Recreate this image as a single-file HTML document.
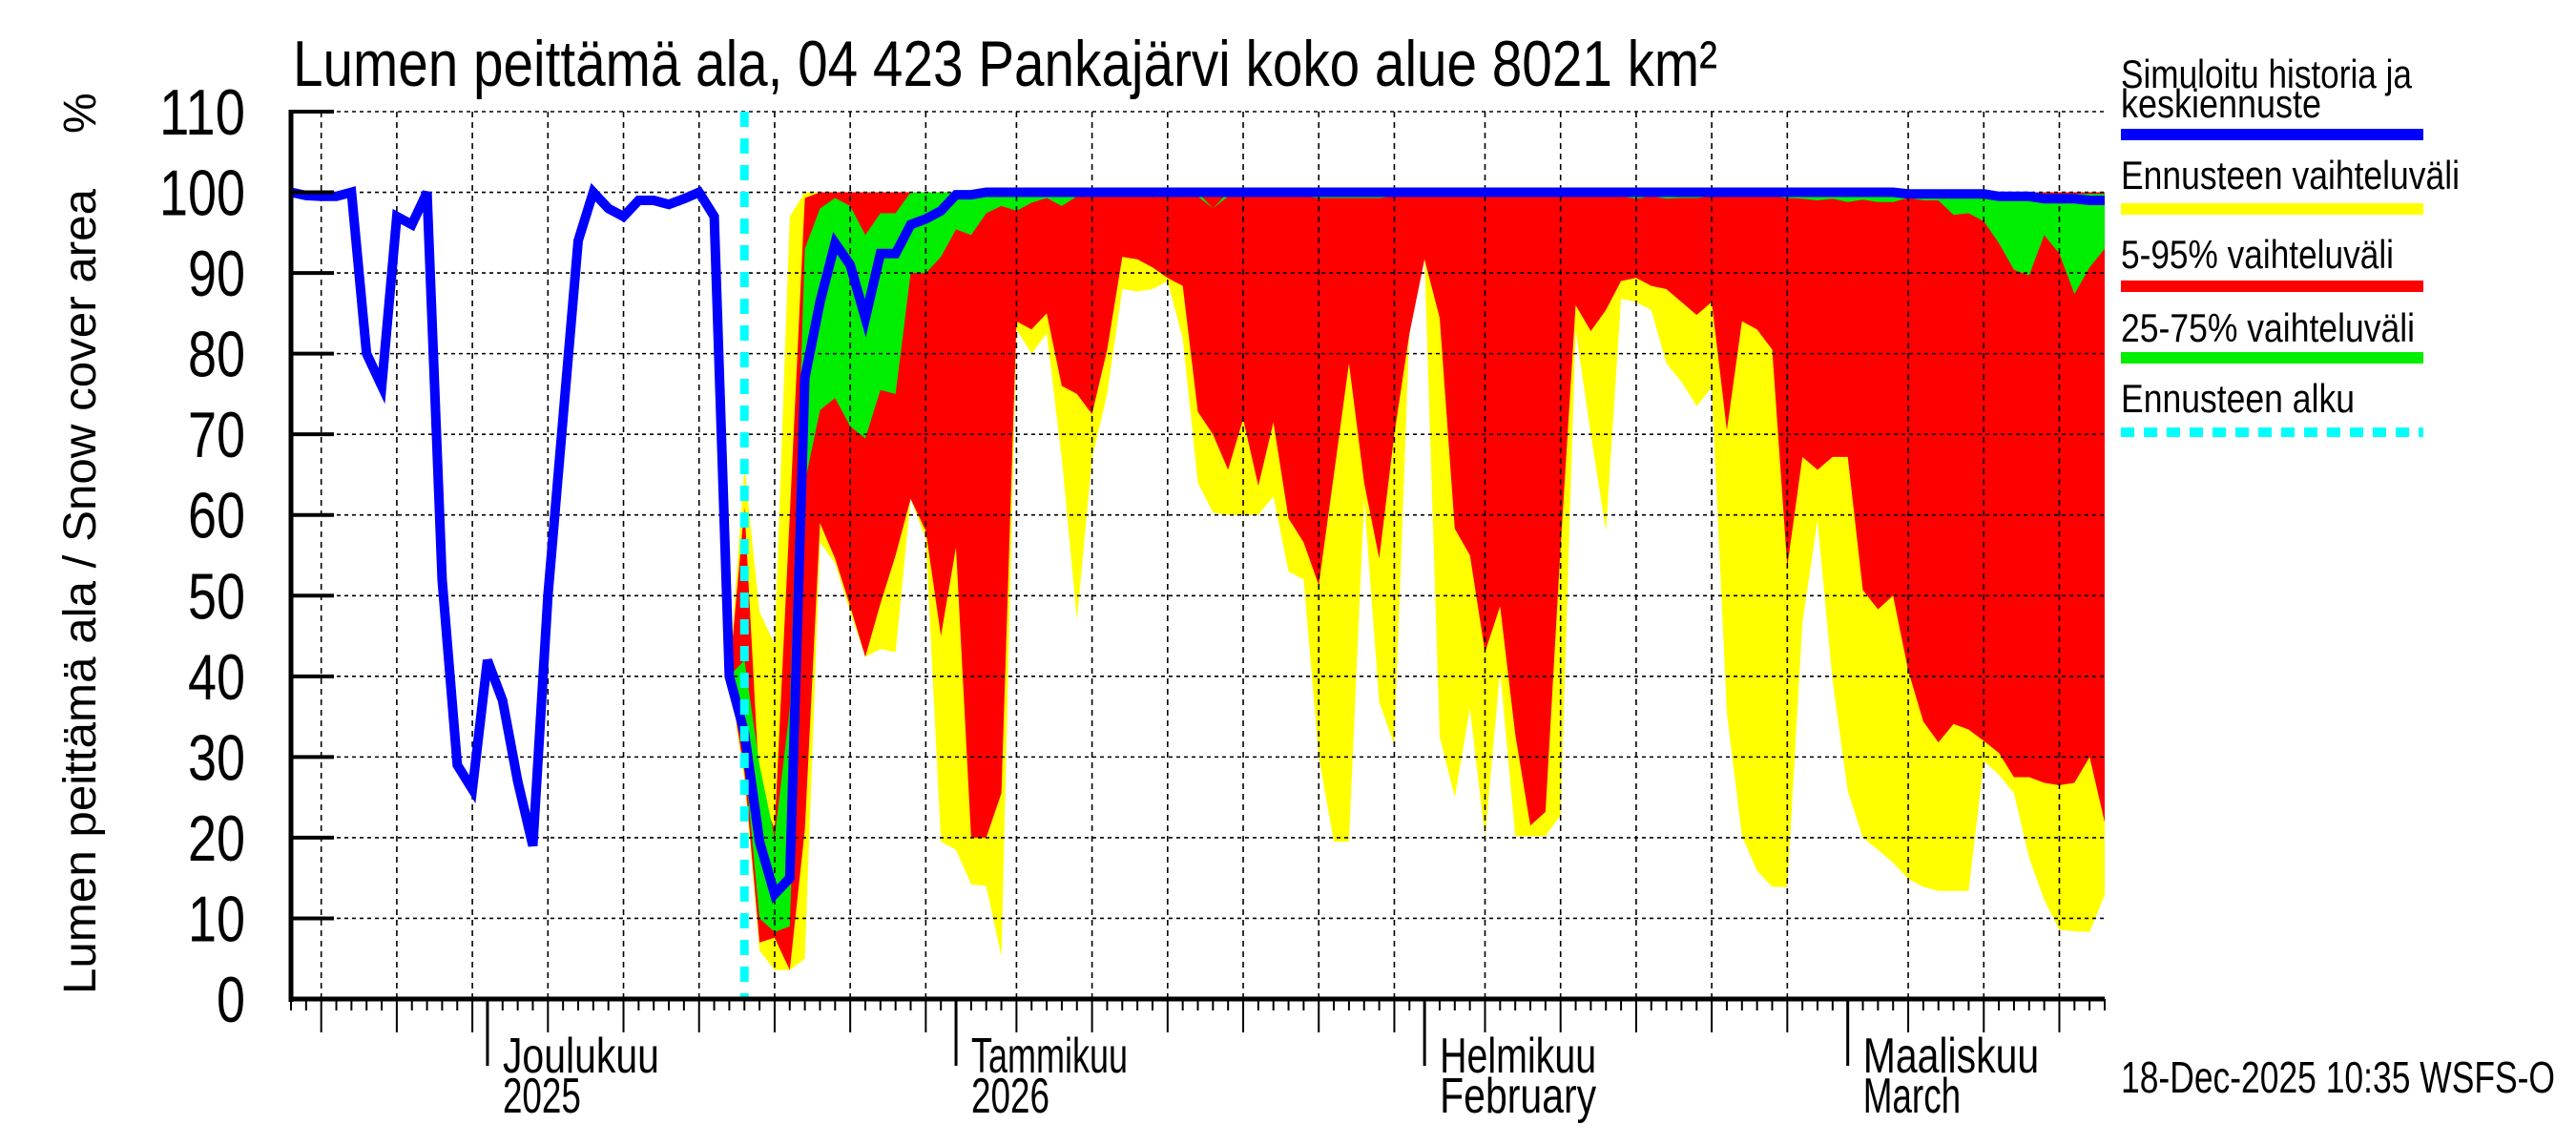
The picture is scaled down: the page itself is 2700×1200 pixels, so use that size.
<!DOCTYPE html>
<html><head><meta charset="utf-8"><title>Lumen peittämä ala</title>
<style>html,body{margin:0;padding:0;background:#fff;}svg{display:block;}</style></head>
<body>
<svg id="chart" xmlns="http://www.w3.org/2000/svg" width="2700" height="1200" viewBox="0 0 2700 1200" font-family="'Liberation Sans', sans-serif">
<rect x="0" y="0" width="2700" height="1200" fill="#fff"/>
<g id="bands"></g>
<g id="grid"></g>
<g id="lines"></g>
<g id="axes"></g>
<text x="307" y="90" font-size="68" textLength="1493" lengthAdjust="spacingAndGlyphs">Lumen peittämä ala, 04 423 Pankajärvi koko alue 8021 km²</text>
<text transform="translate(100,1042) rotate(-90)" font-size="48" textLength="844" lengthAdjust="spacingAndGlyphs">Lumen peittämä ala / Snow cover area</text>
<text transform="translate(100,140) rotate(-90)" font-size="48">%</text>
<g>
<text x="2223" y="92" font-size="42" textLength="305" lengthAdjust="spacingAndGlyphs">Simuloitu historia ja</text>
<text x="2223" y="123" font-size="42" textLength="210" lengthAdjust="spacingAndGlyphs">keskiennuste</text>
<line x1="2223" y1="141" x2="2540" y2="141" stroke="#0000ff" stroke-width="12"/>
<text x="2223" y="198" font-size="42" textLength="355" lengthAdjust="spacingAndGlyphs">Ennusteen vaihteluväli</text>
<line x1="2223" y1="219" x2="2540" y2="219" stroke="#ffff00" stroke-width="12"/>
<text x="2223" y="281" font-size="42" textLength="286" lengthAdjust="spacingAndGlyphs">5-95% vaihteluväli</text>
<line x1="2223" y1="300" x2="2540" y2="300" stroke="#ff0000" stroke-width="12"/>
<text x="2223" y="358" font-size="42" textLength="308" lengthAdjust="spacingAndGlyphs">25-75% vaihteluväli</text>
<line x1="2223" y1="375" x2="2540" y2="375" stroke="#00ee00" stroke-width="12"/>
<text x="2223" y="432" font-size="42" textLength="245" lengthAdjust="spacingAndGlyphs">Ennusteen alku</text>
<line x1="2223" y1="453" x2="2540" y2="453" stroke="#00ffff" stroke-width="10" stroke-dasharray="14 10"/>
</g>
<text x="2223" y="1145" font-size="46" textLength="455" lengthAdjust="spacingAndGlyphs">18-Dec-2025 10:35 WSFS-O</text>
</svg>
<script>
// ---- data ----
const historyStartDay = 0;
const historyValues = [100,99.6,99.5,99.5,100,80,76,97,96,100,52,29,26,42,37,27,19,50,72,94,100,98,97,99,99,98.5,99.2,100,97,40];
const forecastStartDay = 29;
const yellowTop = [40,66,48,44,97].concat(new Array(87).fill(100));
const redTop = [40,61,26,21,60,99.3].concat(new Array(86).fill(100));
const greenTop = [40,42,29,20,36,93,98,99.3,98.3,94.7,97.4,97.4,100,100,100,100,100,100,100,100,100,100,100,100,100,100,100,100,100,100,100,100,98,100,100,100,100,100,100,100,100,100,100,100,100,100,100,100,100,100,100,100,100,100,100,100,100,100,100,100,100,100,100,100,100,100,100,100,100,100,100,100,100,100,100,100,100,100,100,100,100,100,100,100,100,100,100,99.8,99.8,99.8,99.8,99.8];
const median = [40,33,19.5,13,15,77,86.4,93.7,91,84.4,92.4,92.4,96,96.7,97.7,99.7,99.7,100,100,100,100,100,100,100,100,100,100,100,100,100,100,100,100,100,100,100,100,100,100,100,100,100,100,100,100,100,100,100,100,100,100,100,100,100,100,100,100,100,100,100,100,100,100,100,100,100,100,100,100,100,100,100,100,100,100,100,100,100,99.8,99.8,99.8,99.8,99.8,99.8,99.5,99.5,99.5,99.2,99.2,99.2,99,99];
const greenBottom = [40,30,10,8.3,9,64,73,74.5,71,69.5,75.5,75,90,90,92,95.4,94.7,97.4,98.3,97.7,98.7,99.3,98.3,99.5,99.5,99.5,99.5,99.5,99.5,99.5,99.5,99.5,98,99.5,99.5,99.5,99.5,99.5,99.5,99.3,99.3,99.3,99.3,99.3,99.5,99.5,99.5,99.5,99.5,99.5,99.5,99.5,99.5,99.5,99.5,99.5,99.5,99.5,99.5,99.5,99.2,99.5,99.2,99.3,99.3,99.5,99.5,99.5,99.5,99.5,99.3,99.2,99,99.2,98.8,99.1,98.8,98.8,99.3,99,99,97.2,97.4,96.4,93.7,90.4,89.7,94.7,92.4,87.4,90.7,93];
const redBottom = [40,28,7,7.6,3.6,21,59,54.6,48.7,42.4,49,55,62,58,45,56,20,20,25.5,84,83,85,76,75,72.5,80.5,92,91.7,90.7,89.4,88.4,72.8,70,65.6,71.9,63.6,71.5,59.6,56.6,51.3,65,78.8,64,54.6,70,82.5,91.7,84.4,58.3,55,43,48.7,32.8,21.5,23.2,56,86,82.8,85.4,89,89.4,88.4,88,86.4,84.8,86.4,70.5,84,83,80.5,53.6,67.2,65.6,67.2,67.2,50.7,48.3,50,40.7,34.4,31.8,34.1,33.4,32,30.5,27.5,27.5,26.8,26.5,26.8,30,21.9];
const yellowBottom = [40,27,6,3.6,3.6,5,56.6,54,48,42.4,43.4,43,62,57,19.5,18.5,14.2,14,5.3,83,80,82.5,67,47,67,75,88,87.7,88,89,81.8,64,60.3,60,60,60,62.3,53,52,30,19.5,19.5,62,36.8,31.5,83,91.7,32.5,25,36,20,40.7,20.2,20.2,20.2,22.8,83,70,58,86.8,86.4,85.4,78.8,76.5,73.5,75.8,35.4,20.2,15.9,13.9,13.9,46.7,59.3,39.4,25.8,20,18.5,16.9,14.9,13.9,13.4,13.4,13.4,29.5,27.8,25.5,17.5,12.3,8.6,8.4,8.3,12.9];
const yTickLabels = ["0","10","20","30","40","50","60","70","80","90","100","110"];
const monthLabels = [["Joulukuu","2025"],["Tammikuu","2026"],["Helmikuu","February"],["Maaliskuu","March"]];
const monthStartDays = [13,44,75,103];
const gridDays = [2,7,12,17,22,27,32,37,42,48,53,58,63,68,73,79,84,89,94,99,107,112,117];
const forecastLineDay = 30;
const totalDays = 120;

// ---- axes ----
const X0 = 305, X1 = 2206, Y0 = 1047, YTOP = 117;
function xs(d){ return X0 + d * (X1 - X0) / totalDays; }
function ys(v){ return Y0 - v * (Y0 - YTOP) / 110; }
const NS = "http://www.w3.org/2000/svg";
function mk(tag, parent, attrs){ const e = document.createElementNS(NS, tag); for (const k in attrs) e.setAttribute(k, attrs[k]); parent.appendChild(e); return e; }

const bands = document.getElementById('bands');
function band(top, bot, color, name){
  const pts = [];
  for (let i = 0; i < top.length; i++) pts.push(xs(forecastStartDay + i).toFixed(1) + ',' + ys(top[i]).toFixed(1));
  for (let i = bot.length - 1; i >= 0; i--) pts.push(xs(forecastStartDay + i).toFixed(1) + ',' + ys(bot[i]).toFixed(1));
  const p = mk('polygon', bands, {points: pts.join(' '), fill: color});
  
  
}
band(yellowTop, yellowBottom, '#ffff00', 'band-min-max');
band(redTop, redBottom, '#ff0000', 'band-5-95');
band(greenTop, greenBottom, '#00ee00', 'band-25-75');

const grid = document.getElementById('grid');
for (let i = 1; i < yTickLabels.length; i++) {
  const l = mk('line', grid, {x1: X0, x2: X1, y1: ys(i*10), y2: ys(i*10), stroke: '#000', 'stroke-width': 1.6, 'stroke-dasharray': '4 4'});
  
  
}
gridDays.forEach(function(d){
  const l = mk('line', grid, {x1: xs(d), x2: xs(d), y1: YTOP, y2: Y0, stroke: '#000', 'stroke-width': 1.6, 'stroke-dasharray': '6 5'});
  
  
});

const lines = document.getElementById('lines');
const bpts = [];
historyValues.forEach(function(v, i){ bpts.push(xs(historyStartDay + i).toFixed(1) + ',' + ys(v).toFixed(1)); });
median.forEach(function(v, i){ if (i > 0) bpts.push(xs(forecastStartDay + i).toFixed(1) + ',' + ys(v).toFixed(1)); });
const bl = mk('polyline', lines, {points: bpts.join(' '), fill: 'none', stroke: '#0000ff', 'stroke-width': 10, 'stroke-linejoin': 'miter'});


const cy = mk('line', lines, {x1: xs(forecastLineDay), x2: xs(forecastLineDay), y1: YTOP, y2: Y0, stroke: '#00ffff', 'stroke-width': 9, 'stroke-dasharray': '16 12'});



const axes = document.getElementById('axes');
const ya = mk('line', axes, {x1: X0, x2: X0, y1: YTOP - 2, y2: Y0 + 3, stroke: '#000', 'stroke-width': 5});


const xa = mk('line', axes, {x1: X0 - 2, x2: X1, y1: Y0, y2: Y0, stroke: '#000', 'stroke-width': 5});


yTickLabels.forEach(function(t, i){
  const tk = mk('line', axes, {x1: X0, x2: X0 + 45, y1: ys(i*10), y2: ys(i*10), stroke: '#000', 'stroke-width': 4});
  
  
  const tx = mk('text', axes, {x: 257, y: ys(i*10) + 24, 'font-size': 68, 'text-anchor': 'end', textLength: 30 * t.length, lengthAdjust: 'spacingAndGlyphs'});
  tx.textContent = t;
  
  
});
for (let d = 0; d <= totalDays; d++) {
  const long = gridDays.indexOf(d) >= 0;
  const tk = mk('line', axes, {x1: xs(d), x2: xs(d), y1: Y0, y2: Y0 + (long ? 35 : 12), stroke: '#000', 'stroke-width': 2});
  
  
}
monthStartDays.forEach(function(d, i){
  const tk = mk('line', axes, {x1: xs(d), x2: xs(d), y1: Y0, y2: Y0 + 70, stroke: '#000', 'stroke-width': 3});
  
  
  const a = mk('text', axes, {x: xs(d) + 16, y: 1124, 'font-size': 52, textLength: monthLabels[i][0].length * 20.5, lengthAdjust: 'spacingAndGlyphs'});
  a.textContent = monthLabels[i][0];
  
  
  const b = mk('text', axes, {x: xs(d) + 16, y: 1166, 'font-size': 52, textLength: monthLabels[i][1].length * 20.5, lengthAdjust: 'spacingAndGlyphs'});
  b.textContent = monthLabels[i][1];
  
  
});
</script>
</body></html>
